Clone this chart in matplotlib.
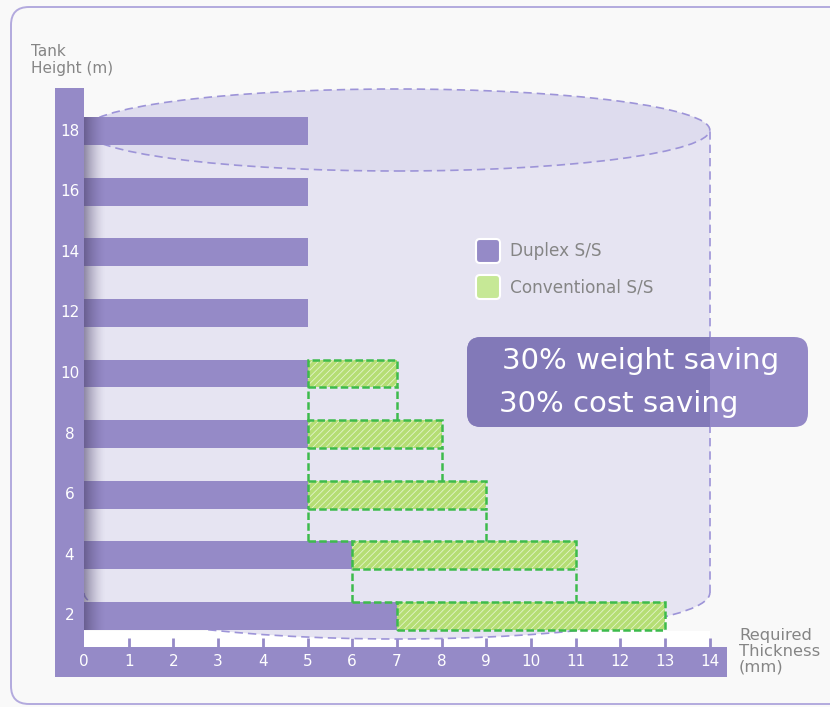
import matplotlib
matplotlib.use("Agg")
import matplotlib.pyplot as plt
from matplotlib.patches import Rectangle, Ellipse, Arc, FancyBboxPatch
from matplotlib.transforms import IdentityTransform
import numpy as np

# ========================= data ========================= #
heights = [2, 4, 6, 8, 10, 12, 14, 16, 18]
duplex = [7, 6, 5, 5, 5, 5, 5, 5, 5]
conv_heights = [2, 4, 6, 8, 10]
conventional = [13, 11, 9, 8, 7]
x_ticks = list(range(0, 15))
legend_labels = ["Duplex S/S", "Conventional S/S"]
notes = ["30% weight saving", "30% cost saving"]

# ========================= style ========================= #
W, H = 830, 707
X0, XU = 84, 44.7      # pixel of x=0, pixels per mm
Y0, YU = 676.6, 30.31  # pixel of y=0, pixels per m
purple = '#958ac7'
box_light = '#9489c7'
box_dark = '#8279b8'
green_fill = '#b5de74'
green_edge = '#3dbb4c'
cyl_body = '#e6e4f2'
cyl_top = '#dedcee'
cyl_edge = '#9d94d8'
grey = '#858585'
bh = 0.92

plt.rcParams['font.family'] = ['DejaVu Sans']
plt.rcParams['hatch.linewidth'] = 0.6


def dx(px):
    return (px - X0) / XU


def dy(py):
    return (Y0 - py) / YU


fig = plt.figure(figsize=(W / 100, H / 100), dpi=100, facecolor='#f9f9f9')
ax = fig.add_axes([0, 0, 1, 1])
ax.set_facecolor('none')
ax.axis('off')
pix = IdentityTransform()

# outer rounded frame
ax.add_patch(FancyBboxPatch((11, 3), 900, 697, boxstyle='round,pad=0,rounding_size=18',
                            transform=pix, fill=False, ec='#b3aade', lw=1.4, zorder=0))

# white band with tick marks
ax.add_patch(Rectangle((0, dy(647)), 14, dy(630.5) - dy(647), fc='white', ec='none', zorder=1))
for t in x_ticks[1:]:
    ax.plot([t, t], [dy(647), dy(638)], color=purple, lw=2, solid_capstyle='butt', zorder=1.5)

# cylinder
top_c, top_h = dy(130), 2 * 41 / YU
bot_c, bot_h = dy(593), 2 * 46 / YU
dash = (0, (5, 3))
body = Rectangle((0, bot_c), 14, top_c - bot_c, fc=cyl_body, ec='none', zorder=2)
ax.add_patch(body)
ax.add_patch(Ellipse((7, bot_c), 14, bot_h, fc=cyl_body, ec='none', zorder=2))
ax.add_patch(Ellipse((7, top_c), 14, top_h, fc=cyl_top, ec=cyl_edge, ls=dash, lw=1.2, zorder=2.2))
ax.plot([14, 14], [bot_c, top_c], color=cyl_edge, ls=dash, lw=1.2, zorder=2.2)
ax.add_patch(Arc((7, bot_c), 14, bot_h, theta1=180, theta2=360, ec=cyl_edge, ls=dash, lw=1.2, zorder=2.3))

# bars
ax.barh(heights, duplex, height=bh, color=purple, zorder=3)
dmap = dict(zip(heights, duplex))
dv = [dmap[h] for h in conv_heights]
widths = [c - d for c, d in zip(conventional, dv)]
ax.barh(conv_heights, widths, left=dv, height=bh, color=green_fill, hatch='/////',
        edgecolor='#e3f4cb', lw=0, zorder=3)
gdash = (0, (3, 1.3))
ax.barh(conv_heights, widths, left=dv, height=bh, fill=False, edgecolor=green_edge,
        ls=gdash, lw=1.8, zorder=4)
hh = bh / 2
for i in range(1, len(conv_heights)):
    lo, hi = conv_heights[i - 1] + hh, conv_heights[i] - hh
    ax.plot([conventional[i]] * 2, [lo, hi], color=green_edge, ls=gdash, lw=1.8, zorder=4)
    ax.plot([dv[i]] * 2, [lo, hi], color=green_edge, ls=gdash, lw=1.8, zorder=4)
    if dv[i] != dv[i - 1]:
        ax.plot([dv[i], dv[i - 1]], [lo, lo], color=green_edge, ls=gdash, lw=1.8, zorder=4)

# shadow next to the y axis
grad = np.zeros((2, 60, 4))
grad[..., 0], grad[..., 1], grad[..., 2] = 70 / 255, 60 / 255, 100 / 255
grad[..., 3] = 0.55 * (1 - np.linspace(0, 1, 60)) ** 1.5
ax.imshow(grad, extent=[0, dx(106), min(heights) - hh, max(heights) + hh],
          aspect='auto', interpolation='bilinear', zorder=3.5)

# axis bars and tick labels
ax.add_patch(Rectangle((dx(55), dy(677)), dx(727) - dx(55), dy(647) - dy(677), fc=purple, ec='none', zorder=5))
ax.add_patch(Rectangle((dx(55), dy(677)), dx(83.5) - dx(55), dy(88) - dy(677), fc=purple, ec='none', zorder=5))
for t in x_ticks:
    ax.text(t, dy(662), str(t), color='white', ha='center', va='center', fontsize=11, zorder=6)
for h in heights:
    ax.text(dx(69.5), h, str(h), color='white', ha='center', va='center', fontsize=11, zorder=6)

ax.text(31, H - 60, "Tank\nHeight (m)", transform=pix, color=grey, fontsize=11,
        ha='left', va='center', linespacing=1.15)
ax.text(739, H - 651, "Required\nThickness\n(mm)", transform=pix, color=grey, fontsize=11.8,
        ha='left', va='center', linespacing=1.05)

# legend
fills = [purple, '#c6e896']
for k, (lab, fc) in enumerate(zip(legend_labels, fills)):
    top = 239 + 36 * k
    ax.add_patch(FancyBboxPatch((476, H - top - 24), 24, 24, boxstyle='round,pad=0,rounding_size=4',
                                transform=pix, fc=fc, ec='white', lw=1.5, zorder=6))
    ax.text(510, H - top - 12, lab, transform=pix, color=grey, fontsize=12.2,
            ha='left', va='center', zorder=6)

# saving box
ax.add_patch(FancyBboxPatch((467, H - 427), 341, 90, boxstyle='round,pad=0,rounding_size=14',
                            transform=pix, fc=box_light, ec='none', zorder=7))
dark = FancyBboxPatch((467, H - 427), 341, 90, boxstyle='round,pad=0,rounding_size=14',
                      transform=pix, fc=box_dark, ec='none', zorder=7.1)
ax.add_patch(dark)
dark.set_clip_path(body)
ax.text(502, H - 361, notes[0], transform=pix, color='white', fontsize=21, ha='left', va='center', zorder=8)
ax.text(499, H - 404, notes[1], transform=pix, color='white', fontsize=21, ha='left', va='center', zorder=8)

ax.set_xlim(dx(0), dx(W))
ax.set_ylim(dy(H), dy(0))

fig.savefig("out.png", dpi=100, facecolor=fig.get_facecolor())
